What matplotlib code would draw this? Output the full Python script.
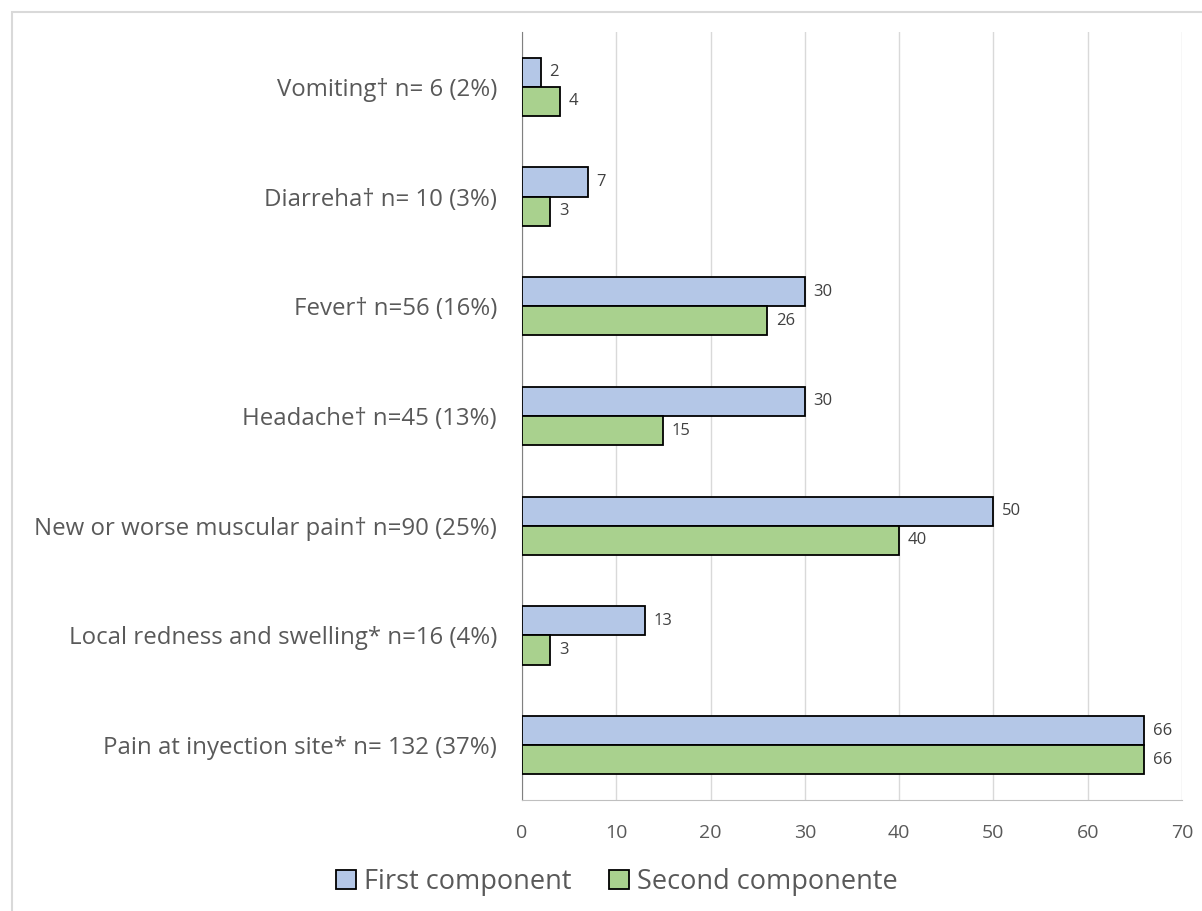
import matplotlib
matplotlib.use("Agg")
import matplotlib.pyplot as plt
import numpy as np
from matplotlib.patches import Rectangle

categories = ["Pain at inyection site* n= 132 (37%)",
              "Local redness and swelling* n=16 (4%)",
              "New or worse muscular pain\u2020 n=90 (25%)",
              "Headache\u2020 n=45 (13%)",
              "Fever\u2020 n=56 (16%)",
              "Diarreha\u2020 n= 10 (3%)",
              "Vomiting\u2020 n= 6 (2%)"]
first = [66, 13, 50, 30, 30, 7, 2]
second = [66, 3, 40, 15, 26, 3, 4]
series_names = ["First component", "Second componente"]
xticks = [0, 10, 20, 30, 40, 50, 60, 70]

plt.rcParams['font.family'] = ['Open Sans', 'DejaVu Sans']
text_color = "#595959"

fig = plt.figure(figsize=(12.02, 9.11), dpi=100)
fig.patches.append(Rectangle((12/1202, -0.1), 1.2, 1 - 12/911 + 0.1, transform=fig.transFigure,
                             fill=False, edgecolor="#D9D9D9", linewidth=1.5))
ax = fig.add_axes([522/1202, 1 - 800/911, 660/1202, 768/911])

y = np.arange(len(categories))
h = 0.265
b1 = ax.barh(y + h/2, first, height=h, color="#B4C7E7", edgecolor="black", linewidth=1.3, label=series_names[0], zorder=3)
b2 = ax.barh(y - h/2, second, height=h, color="#A9D18E", edgecolor="black", linewidth=1.3, label=series_names[1], zorder=3)
for bars, vals in ((b1, first), (b2, second)):
    for bar, v in zip(bars, vals):
        ax.text(v + 0.9, bar.get_y() + bar.get_height()/2, str(v), va="center", ha="left",
                fontsize=12, color="#404040")

ax.set_xlim(0, 70)
ax.set_ylim(-0.5, len(categories) - 0.5)
ax.set_xticks(xticks)
ax.set_yticks(y)
ax.set_yticklabels(categories, fontsize=17.3, color=text_color)
ax.tick_params(axis='x', labelsize=14, colors=text_color, length=0, pad=17)
ax.tick_params(axis='y', length=0, pad=18)
ax.grid(axis='x', color="#D9D9D9", linewidth=1, zorder=0)
for s in ("top", "right"):
    ax.spines[s].set_visible(False)
ax.spines["left"].set_color("#808080")
ax.spines["bottom"].set_color("#BFBFBF")

leg = fig.legend(handles=[b1, b2], labels=series_names, loc="center", bbox_to_anchor=(617/1202, 1 - 882/911),
                 ncol=2, frameon=False, fontsize=19.5, handlelength=0.72, handleheight=0.72,
                 handletextpad=0.3, columnspacing=1.4)
for t in leg.get_texts():
    t.set_color(text_color)

fig.savefig("out.png", dpi=100)
